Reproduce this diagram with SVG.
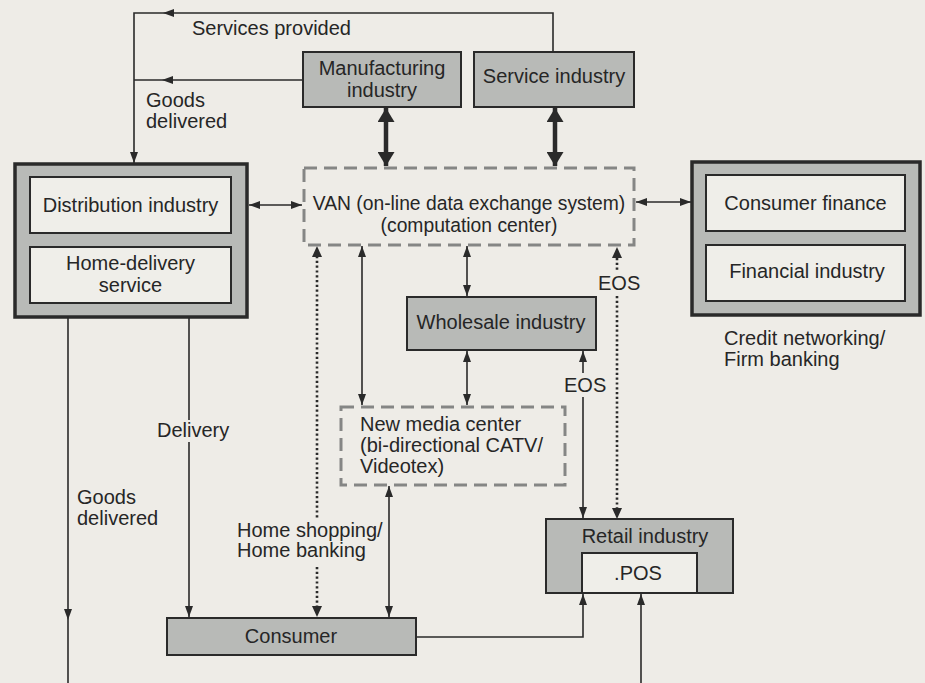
<svg xmlns="http://www.w3.org/2000/svg" width="925" height="683" viewBox="0 0 925 683">
<defs>
<style>
text{font-family:"Liberation Sans",Arial,sans-serif;font-size:20px;fill:#262626}
.c{text-anchor:middle}
.s{font-size:19.3px}
.gbox{fill:#b8bab7;stroke:#2a2a2a;stroke-width:2}
.obox{fill:#b8bab7;stroke:#2a2a2a;stroke-width:3.5}
.ibox{fill:#efeee9;stroke:#2a2a2a;stroke-width:2}
.dbox{fill:none;stroke:#858685;stroke-width:3;stroke-dasharray:13 7}
.ln{fill:none;stroke:#2a2a2a;stroke-width:1.6}
.dot{fill:none;stroke:#2a2a2a;stroke-width:2.6;stroke-dasharray:2.2 2.6}
.thick{fill:none;stroke:#2a2a2a;stroke-width:4.5}
.a2{marker-start:url(#ah);marker-end:url(#ah)}
.ae{marker-end:url(#ah)}
.t2{marker-start:url(#th);marker-end:url(#th)}
.hd{fill:#2a2a2a}
</style>
<marker id="ah" viewBox="0 0 11 8" refX="11" refY="4" markerWidth="11" markerHeight="8" markerUnits="userSpaceOnUse" orient="auto-start-reverse"><path d="M0,0 L11,4 L0,8 z" fill="#2a2a2a"/></marker>
<marker id="th" viewBox="0 0 14 17" refX="14" refY="8.5" markerWidth="14" markerHeight="17" markerUnits="userSpaceOnUse" orient="auto-start-reverse"><path d="M0,0 L14,8.5 L0,17 z" fill="#2a2a2a"/></marker>
</defs>
<rect width="925" height="683" fill="#eeece7"/>

<g id="connectors">
<path class="ln" d="M553,52 V13 H134 V163"/>
<path class="hd" d="M174,9 L163,13 L174,17 z"/>
<path class="hd" d="M130,152 L134,163 L138,152 z"/>
<path class="ln" d="M303,80 H134"/>
<path class="hd" d="M173,76 L162,80 L173,84 z"/>
<path class="thick t2" d="M386,108 V166"/>
<path class="thick t2" d="M555,108 V166"/>
<path class="ln a2" d="M249,205 H302"/>
<path class="ln a2" d="M636,202 H691"/>
<path class="ln a2" d="M467,246 V296"/>
<path class="ln a2" d="M467,351 V405"/>
<path class="ln a2" d="M362,246 V405"/>
<path class="ln a2" d="M389,486 V617"/>
<path class="dot" d="M317,256 V520"/>
<path class="hd" d="M312,257 L317,246 L322,257 z"/>
<path class="dot" d="M317,567 V607"/>
<path class="hd" d="M312,606 L317,617 L322,606 z"/>
<path class="ln" d="M189,318 V420"/>
<path class="ln ae" d="M189,442 V617"/>
<path class="ln" d="M68,318 V683"/>
<path class="hd" d="M64,609 L68,620 L72,609 z"/>
<path class="ln ae" d="M417,637 H583 V594"/>
<path class="ln ae" d="M641,683 V594"/>
<path class="ln" d="M583,351 V373"/>
<path class="hd" d="M579,362 L583,351 L587,362 z"/>
<path class="ln ae" d="M583,397 V518"/>
<path class="hd" d="M612,258 L617,247 L622,258 z"/>
<path class="dot" d="M617,258 V272"/>
<path class="dot" d="M617,296 V509"/>
<path class="hd" d="M612,508 L617,519 L622,508 z"/>
</g>

<g id="manufacturing">
<rect class="gbox" x="303" y="52" width="158" height="55"/>
<text class="c" x="382" y="75">Manufacturing</text>
<text class="c" x="382" y="97">industry</text>
</g>
<g id="service">
<rect class="gbox" x="474" y="52" width="160" height="55"/>
<text class="c" x="554" y="83">Service industry</text>
</g>
<g id="van">
<rect class="dbox" x="304" y="168" width="330" height="77"/>
<text class="c s" x="469" y="210">VAN (on-line data exchange system)</text>
<text class="c s" x="469" y="232">(computation center)</text>
</g>
<g id="distribution-group">
<rect class="obox" x="15" y="164" width="232" height="153"/>
<g id="distribution">
<rect class="ibox" x="30" y="177" width="201" height="56"/>
<text class="c" x="130.5" y="212">Distribution industry</text>
</g>
<g id="home-delivery">
<rect class="ibox" x="30" y="247" width="201" height="56"/>
<text class="c" x="130.5" y="270">Home-delivery</text>
<text class="c" x="130.5" y="292">service</text>
</g>
</g>
<g id="finance-group">
<rect class="obox" x="692" y="162" width="228" height="153"/>
<g id="consumer-finance">
<rect class="ibox" x="706" y="175" width="199" height="56"/>
<text class="c" x="805.5" y="210">Consumer finance</text>
</g>
<g id="financial">
<rect class="ibox" x="706" y="245" width="199" height="56"/>
<text class="c" x="807" y="278">Financial industry</text>
</g>
<text x="724" y="345">Credit networking/</text>
<text x="724" y="366">Firm banking</text>
</g>
<g id="wholesale">
<rect class="gbox" x="407" y="297" width="189" height="53"/>
<text class="c" x="501" y="329">Wholesale industry</text>
</g>
<g id="new-media">
<rect class="dbox" x="341" y="407" width="224" height="78"/>
<text x="360" y="431">New media center</text>
<text x="360" y="452">(bi-directional CATV/</text>
<text x="360" y="473">Videotex)</text>
</g>
<g id="consumer">
<rect class="gbox" x="167" y="618" width="249" height="37"/>
<text class="c" x="291" y="643">Consumer</text>
</g>
<g id="retail">
<rect class="gbox" x="546" y="519" width="187" height="74"/>
<text class="c" x="645" y="543">Retail industry</text>
<rect class="ibox" x="582" y="553" width="115" height="40"/>
<text class="c" x="638" y="580">.POS</text>
</g>
<g id="labels">
<text x="192" y="35">Services provided</text>
<text x="146" y="107">Goods</text>
<text x="146" y="128">delivered</text>
<text x="157" y="437">Delivery</text>
<text x="77" y="504">Goods</text>
<text x="77" y="525">delivered</text>
<text x="237" y="537">Home shopping/</text>
<text x="237" y="557">Home banking</text>
<text x="564" y="392">EOS</text>
<text x="598" y="290">EOS</text>
</g>
</svg>
